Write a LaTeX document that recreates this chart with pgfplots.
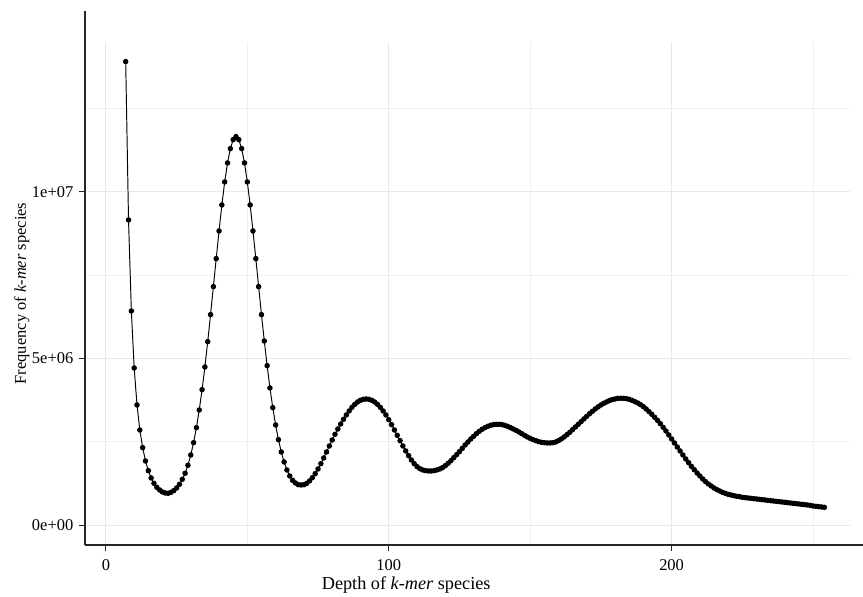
\documentclass[border=0pt]{standalone}
\usepackage{fontspec}
\setmainfont{Liberation Serif}
\usepackage{pgfplots}
\pgfplotsset{compat=1.18}
\usepackage{pgfplotstable}

% k-mer depth vs frequency (frequency in millions)
\pgfplotstableread{
depth freq
7 13.90
8 9.15
9 6.42
10 4.71
11 3.60
12 2.85
13 2.32
14 1.92
15 1.63
16 1.41
17 1.25
18 1.13
19 1.05
20 0.99
21 0.96
22 0.95
23 0.98
24 1.03
25 1.11
26 1.22
27 1.37
28 1.55
29 1.79
30 2.10
31 2.47
32 2.92
33 3.45
34 4.06
35 4.74
36 5.50
37 6.31
38 7.15
39 7.99
40 8.82
41 9.60
42 10.29
43 10.86
44 11.29
45 11.56
46 11.65
47 11.56
48 11.29
49 10.86
50 10.29
51 9.60
52 8.82
53 7.99
54 7.15
55 6.31
56 5.52
57 4.78
58 4.11
59 3.52
60 3.00
61 2.56
62 2.19
63 1.89
64 1.65
65 1.47
66 1.34
67 1.26
68 1.21
69 1.20
70 1.21
71 1.25
72 1.32
73 1.42
74 1.54
75 1.68
76 1.84
77 2.01
78 2.19
79 2.37
80 2.55
81 2.72
82 2.88
83 3.03
84 3.17
85 3.30
86 3.42
87 3.53
88 3.62
89 3.69
90 3.74
91 3.77
92 3.78
93 3.77
94 3.74
95 3.69
96 3.62
97 3.53
98 3.42
99 3.30
100 3.16
101 3.01
102 2.85
103 2.69
104 2.53
105 2.37
106 2.22
107 2.08
108 1.95
109 1.84
110 1.75
111 1.69
112 1.65
113 1.63
114 1.62
115 1.62
116 1.63
117 1.65
118 1.68
119 1.72
120 1.78
121 1.85
122 1.93
123 2.02
124 2.11
125 2.20
126 2.30
127 2.40
128 2.49
129 2.58
130 2.66
131 2.74
132 2.81
133 2.87
134 2.92
135 2.96
136 2.99
137 3.01
138 3.02
139 3.02
140 3.01
141 2.99
142 2.96
143 2.92
144 2.88
145 2.84
146 2.79
147 2.74
148 2.69
149 2.64
150 2.60
151 2.56
152 2.53
153 2.50
154 2.48
155 2.47
156 2.46
157 2.46
158 2.47
159 2.49
160 2.53
161 2.58
162 2.64
163 2.71
164 2.78
165 2.86
166 2.94
167 3.02
168 3.10
169 3.18
170 3.26
171 3.34
172 3.41
173 3.48
174 3.54
175 3.60
176 3.65
177 3.69
178 3.73
179 3.76
180 3.78
181 3.80
182 3.80
183 3.80
184 3.79
185 3.77
186 3.74
187 3.70
188 3.66
189 3.61
190 3.55
191 3.48
192 3.40
193 3.32
194 3.23
195 3.14
196 3.04
197 2.93
198 2.82
199 2.70
200 2.58
201 2.46
202 2.34
203 2.22
204 2.10
205 1.98
206 1.87
207 1.76
208 1.66
209 1.56
210 1.47
211 1.38
212 1.30
213 1.23
214 1.17
215 1.11
216 1.06
217 1.02
218 0.98
219 0.95
220 0.92
221 0.90
222 0.88
223 0.86
224 0.85
225 0.83
226 0.82
227 0.81
228 0.80
229 0.79
230 0.78
231 0.77
232 0.76
233 0.75
234 0.74
235 0.73
236 0.72
237 0.71
238 0.70
239 0.69
240 0.68
241 0.67
242 0.66
243 0.65
244 0.64
245 0.63
246 0.62
247 0.61
248 0.60
249 0.59
250 0.57
251 0.56
252 0.55
253 0.54
254 0.53
}\kmer

\newcommand\ff{\fontsize{10.3pt}{12pt}\selectfont}
\newcommand\fx{\fontsize{11.4pt}{13pt}\selectfont}

\begin{document}
\begin{tikzpicture}
\begin{axis}[
  at={(0,0)}, anchor=south west,
  scale only axis, width=478pt, height=314.4pt,
  xmin=-7.4, xmax=263, ymin=-0.6, ymax=14.49,
  axis lines*=left,
  axis line style={-, line width=1pt, black!85},
  x axis line style={shorten >=-8.1pt},
  y axis line style={shorten >=-19.4pt},
  xtick={0,100,200}, xticklabels={0,100,200},
  ytick={0,5,10}, yticklabels={0e+00,5e+06,1e+07},
  minor xtick={50,150,250}, minor ytick={2.5,7.5,12.5},
  grid=both,
  major grid style={black!9, line width=0.6pt},
  minor grid style={black!6, line width=0.5pt},
  tick align=outside, major tick length=3.75pt, minor tick length=0pt,
  tick style={black!85, line width=0.6pt},
  ticklabel style={font=\ff},
  xticklabel style={yshift=-1.6pt},
  xlabel={Depth of \textit{k-mer} species},
  ylabel={Frequency of \textit{k-mer} species},
  xlabel style={font=\fx, at={(axis description cs:0.42,-0.0795)}, anchor=center},
  ylabel style={font=\ff, at={(axis description cs:-0.0824,0.5)}, anchor=center},
]
\addplot[black, line width=0.6pt, mark=*, mark size=1.4pt] table[x=depth, y=freq] {\kmer};
\end{axis}
\pgfresetboundingbox
\path[use as bounding box] (-53.1pt,-31.9pt) rectangle (486.25pt,340.6pt);
\end{tikzpicture}
\end{document}
